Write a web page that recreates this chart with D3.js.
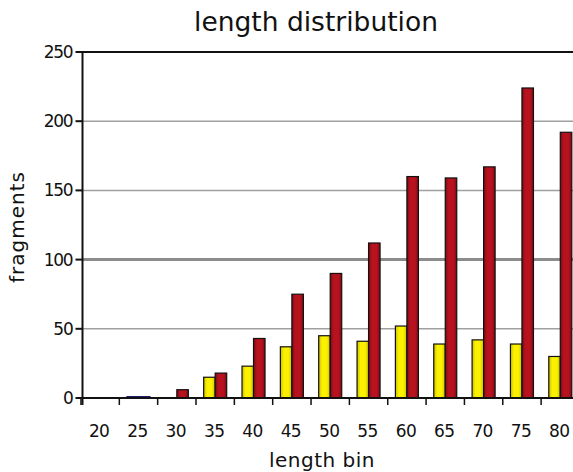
<!DOCTYPE html>
<html>
<head>
<meta charset="utf-8">
<script src="https://cdn.jsdelivr.net/npm/d3@7"></script>
<style>
  body { margin: 0; background: #fff; }
  svg { display: block; font-family: "DejaVu Sans", sans-serif; }
</style>
</head>
<body>
<svg id="canvas" width="573" height="472"></svg>
<script>
// chart data
const bins = ["20", "25", "30", "35", "40", "45", "50", "55", "60", "65", "70", "75", "80"];
const yellowValues = [0, 1, 0, 15, 23, 37, 45, 41, 52, 39, 42, 39, 30];
const redValues = [0, 1, 6, 18, 43, 75, 90, 112, 160, 159, 167, 224, 192];
const yTicks = [0, 50, 100, 150, 200, 250];

const svg = d3.select("#canvas");
const plotLeft = 82.5, plotRight = 581, plotTop = 52, plotBottom = 398;

const x = d3.scaleBand().domain(bins).range([plotLeft, plotRight])
    .paddingInner(0.4).paddingOuter(0.2).align(0.4);
const xs = d3.scaleBand().domain(["y", "r"]).range([0, x.bandwidth()]);
const y = d3.scaleLinear().domain([0, 250]).range([plotBottom, plotTop]);

// gradients for the bar fills
const defs = svg.append("defs");
function grad(id, edge, mid) {
    const g = defs.append("linearGradient").attr("id", id)
        .attr("x1", 0).attr("x2", 1).attr("y1", 0).attr("y2", 0);
    g.append("stop").attr("offset", "0%").attr("stop-color", edge);
    g.append("stop").attr("offset", "30%").attr("stop-color", mid);
    g.append("stop").attr("offset", "70%").attr("stop-color", mid);
    g.append("stop").attr("offset", "100%").attr("stop-color", edge);
}
grad("gy", "#c9c000", "#fbf000");
grad("gr", "#7c0c14", "#b8121e");

// gridlines
svg.append("g")
    .selectAll("line")
    .data(yTicks.filter((d) => d > 0 && d < 250))
    .enter()
    .append("line")
    .attr("x1", plotLeft).attr("x2", 573)
    .attr("y1", (d) => y(d)).attr("y2", (d) => y(d))
    .attr("stroke", (d) => (d === 100 ? "#8c8c8c" : "#a0a0a0"))
    .attr("stroke-width", (d) => (d === 100 ? 3 : 1.5));

// top frame line
svg.append("line")
    .attr("x1", plotLeft).attr("x2", 573)
    .attr("y1", y(250)).attr("y2", y(250))
    .attr("stroke", "#111").attr("stroke-width", 2);

// bars
const groups = svg.selectAll("g.bin")
    .data(bins)
    .enter()
    .append("g")
    .attr("class", "bin")
    .attr("transform", (d) => "translate(" + x(d) + ",0)");

groups.append("rect")
    .attr("x", xs("y"))
    .attr("y", (d, i) => y(yellowValues[i]))
    .attr("width", xs.bandwidth())
    .attr("height", (d, i) => plotBottom - y(yellowValues[i]))
    .attr("fill", "url(#gy)")
    .attr("stroke", (d, i) => (yellowValues[i] < 2 ? "#1a1a6e" : "#111"))
    .attr("stroke-width", 1.2)
    .style("display", (d, i) => (yellowValues[i] > 0 ? null : "none"));

groups.append("rect")
    .attr("x", xs("r"))
    .attr("y", (d, i) => y(redValues[i]))
    .attr("width", xs.bandwidth())
    .attr("height", (d, i) => plotBottom - y(redValues[i]))
    .attr("fill", "url(#gr)")
    .attr("stroke", (d, i) => (redValues[i] < 2 ? "#1a1a6e" : "#111"))
    .attr("stroke-width", 1.2)
    .style("display", (d, i) => (redValues[i] > 0 ? null : "none"));

// x axis line and ticks between bins
svg.append("line")
    .attr("x1", plotLeft).attr("x2", 573)
    .attr("y1", plotBottom).attr("y2", plotBottom)
    .attr("stroke", "#111").attr("stroke-width", 2);

const step = x.step();
const tickXs = bins.map((d, i) => x(d) - step * x.paddingInner() / 2);
svg.append("g")
    .selectAll("line")
    .data(tickXs)
    .enter()
    .append("line")
    .attr("x1", (d) => d).attr("x2", (d) => d)
    .attr("y1", plotBottom).attr("y2", plotBottom + 7)
    .attr("stroke", "#111").attr("stroke-width", 1.5);

svg.append("g")
    .selectAll("text")
    .data(bins)
    .enter()
    .append("text")
    .attr("x", (d) => x(d) + x.bandwidth() / 2 - 1)
    .attr("y", 437)
    .attr("text-anchor", "middle")
    .style("font-size", "17px")
    .style("letter-spacing", "-0.6px")
    .attr("fill", "#111")
    .text((d) => d);

// y axis
svg.append("line")
    .attr("x1", plotLeft).attr("x2", plotLeft)
    .attr("y1", plotTop - 1).attr("y2", plotBottom + 7)
    .attr("stroke", "#111").attr("stroke-width", 2);

svg.append("g")
    .selectAll("line")
    .data(yTicks)
    .enter()
    .append("line")
    .attr("x1", plotLeft - 7).attr("x2", plotLeft)
    .attr("y1", (d) => y(d)).attr("y2", (d) => y(d))
    .attr("stroke", "#111").attr("stroke-width", 2);

svg.append("g")
    .selectAll("text")
    .data(yTicks)
    .enter()
    .append("text")
    .attr("x", plotLeft - 10)
    .attr("y", (d) => y(d) + 6)
    .attr("text-anchor", "end")
    .style("font-size", "17px")
    .style("letter-spacing", "-1.2px")
    .attr("fill", "#111")
    .text((d) => d);

// titles
svg.append("text")
    .attr("x", 316).attr("y", 31)
    .attr("text-anchor", "middle")
    .style("font-size", "26.5px")
    .attr("fill", "#111")
    .text("length distribution");

svg.append("text")
    .attr("x", 322).attr("y", 467)
    .attr("text-anchor", "middle")
    .style("font-size", "20px")
    .style("letter-spacing", "0.5px")
    .attr("fill", "#111")
    .text("length bin");

svg.append("text")
    .attr("transform", "translate(24,227) rotate(-90)")
    .attr("text-anchor", "middle")
    .style("font-size", "20px")
    .style("letter-spacing", "1px")
    .attr("fill", "#111")
    .text("fragments");
</script>
</body>
</html>
